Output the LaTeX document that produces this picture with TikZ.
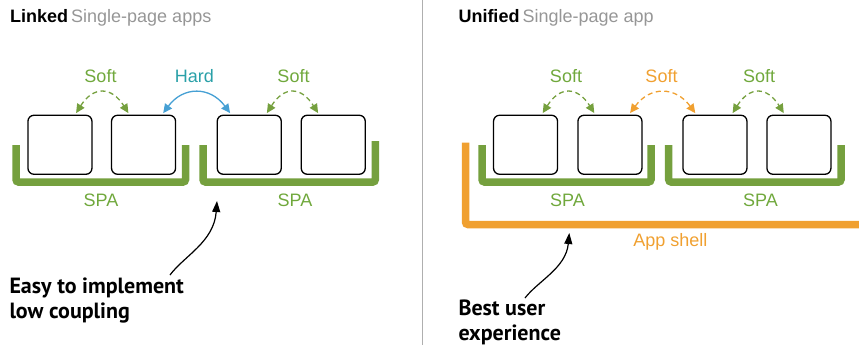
\documentclass[tikz,border=0pt]{standalone}
\usepackage{fontspec}
\setmainfont{Liberation Sans}
\newfontfamily\annfont{PT Sans}
\usetikzlibrary{arrows.meta}
\definecolor{spagreen}{RGB}{117,160,62}
\definecolor{softgreen}{RGB}{112,168,60}
\definecolor{shellorange}{RGB}{240,160,48}
\definecolor{hardblue}{RGB}{70,160,212}
\definecolor{hardteal}{RGB}{42,160,168}
\definecolor{titlegray}{RGB}{150,150,150}
\definecolor{dividergray}{RGB}{175,175,175}
\begin{document}
\begin{tikzpicture}[x=1pt,y=-1pt,
  page/.style={draw=black, line width=1.3pt, rounded corners=6pt, minimum width=64pt, minimum height=59pt, inner sep=0pt, anchor=north west},
  bracket/.style={line width=7.5pt, line join=miter, rounded corners=2.5pt},
  lbl/.style={font=\fontsize{18}{21}\selectfont, inner sep=0pt},
  title/.style={font=\fontsize{18}{21}\selectfont, inner sep=0pt, anchor=base west},
  ann/.style={font=\annfont\bfseries\fontsize{22}{25}\selectfont, inner sep=0pt, align=left, anchor=north west},
  hop/.style={line width=1.3pt, {Triangle[length=9pt,width=8.5pt]}-{Triangle[length=9pt,width=8.5pt]}},
  softhop/.style={hop, dash pattern=on 5pt off 3.5pt},
  pointer/.style={line width=1.2pt, -{Triangle[length=11pt,width=8pt]}}
]
\useasboundingbox (0,0) rectangle (859,349);

% divider
\draw[dividergray, line width=1pt] (422,0) -- (422,345);

% ---------- left panel ----------
\node[title] (t1) at (10,22) {\textbf{Linked}\hspace{3pt}\textcolor{titlegray}{Single-page apps}};

\node[page] (b1) at (27.3,114.6) {};
\node[page] (b2) at (110.9,114.6) {};
\node[page] (b3) at (216.6,114.6) {};
\node[page] (b4) at (300.6,114.6) {};

\draw[spagreen, bracket] (16,145) -- (16,182) -- (185.5,182) -- (185.5,145);
\draw[spagreen, bracket] (203,145) -- (203,182) -- (375.3,182) -- (375.3,141);

\node[lbl, text=softgreen] (s1) at (101,200) {SPA};
\node[lbl, text=softgreen] (s2) at (295,200) {SPA};

\draw[softhop, spagreen] ([xshift=-16.5pt,yshift=1.5pt]b1.north east) .. controls +(17,-27) and +(-17,-27) .. ([xshift=17.5pt,yshift=1.5pt]b2.north west);
\draw[hop, hardblue] ([xshift=-13pt,yshift=1.5pt]b2.north east) .. controls +(20,-27) and +(-20,-27) .. ([xshift=13.5pt,yshift=1.5pt]b3.north west);
\draw[softhop, spagreen] ([xshift=-15pt,yshift=1.5pt]b3.north east) .. controls +(17,-27) and +(-17,-27) .. ([xshift=17.5pt,yshift=1.5pt]b4.north west);

\node[lbl, text=softgreen] (l1) at (100.5,76) {Soft};
\node[lbl, text=hardteal] (l2) at (194.5,76) {Hard};
\node[lbl, text=softgreen] (l3) at (293.5,76) {Soft};

\node[ann] (a1) at (9.3,277.5) {Easy to implement\\low coupling};
\coordinate (a1s) at (170,275);
\coordinate (a1t) at (217,201);
\draw[pointer] (a1s) .. controls (184,256) and (214,242) .. (a1t);

% ---------- right panel ----------
\node[title] (t2) at (458.3,22) {\textbf{Unified}\hspace{3pt}\textcolor{titlegray}{Single-page app}};

\node[page] (c1) at (492.9,114.6) {};
\node[page] (c2) at (577.3,114.6) {};
\node[page] (c3) at (682.3,114.6) {};
\node[page] (c4) at (766.3,114.6) {};

\draw[shellorange, bracket] (465.5,142.7) -- (465.5,224.5) -- (859,224.5);
\draw[spagreen, bracket] (482,145) -- (482,182) -- (651,182) -- (651,145);
\draw[spagreen, bracket] (668.7,145) -- (668.7,182) -- (841,182) -- (841,145);

\node[lbl, text=softgreen] (s3) at (567.5,200) {SPA};
\node[lbl, text=softgreen] (s4) at (760.5,200) {SPA};
\node[lbl, text=shellorange] (sh) at (670.3,241.7) {App shell};

\draw[softhop, spagreen] ([xshift=-15.5pt,yshift=1.5pt]c1.north east) .. controls +(17,-27) and +(-17,-27) .. ([xshift=17pt,yshift=1.5pt]c2.north west);
\draw[softhop, shellorange] ([xshift=-12.5pt,yshift=1.5pt]c2.north east) .. controls +(20,-27) and +(-20,-27) .. ([xshift=13pt,yshift=1.5pt]c3.north west);
\draw[softhop, spagreen] ([xshift=-15pt,yshift=1.5pt]c3.north east) .. controls +(17,-27) and +(-17,-27) .. ([xshift=17.5pt,yshift=1.5pt]c4.north west);

\node[lbl, text=softgreen] (l4) at (566,76) {Soft};
\node[lbl, text=shellorange] (l5) at (661.5,76) {Soft};
\node[lbl, text=softgreen] (l6) at (759,76) {Soft};

\node[ann] (a2) at (458.3,299.5) {Best user\\experience};
\coordinate (a2s) at (525,298);
\coordinate (a2t) at (569.3,233);
\draw[pointer] (a2s) .. controls (538,281) and (566,268) .. (a2t);
\end{tikzpicture}
\end{document}
